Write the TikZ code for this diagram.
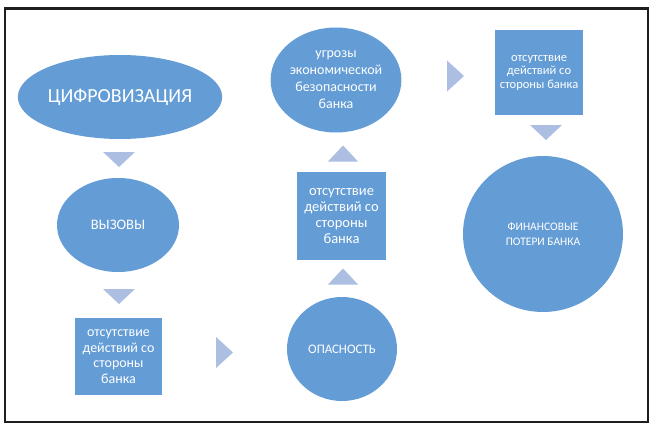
\documentclass[tikz,border=0pt]{standalone}
\usepackage{fontspec}
\setmainfont{Carlito}
\usetikzlibrary{shapes.geometric}
\definecolor{nodeblue}{RGB}{100,157,214}
\definecolor{triblue}{RGB}{172,191,226}
\definecolor{frame}{RGB}{30,30,30}
\tikzset{
  every node/.style={inner sep=0pt, outer sep=0pt},
  blob/.style={ellipse, fill=nodeblue, text=white, align=center},
  sqbox/.style={rectangle, fill=nodeblue, text=white, align=center},
  tri/.style={fill=triblue},
  pics/tdown/.style={code={\fill[tri] (-16,-7.5) -- (16,-7.5) -- (0,7.5) -- cycle;}},
  pics/tup/.style={code={\fill[tri] (-15,8) -- (15,8) -- (0,-8) -- cycle;}},
  pics/tright/.style={code={\fill[tri] (-8.5,-15.5) -- (-8.5,15.5) -- (8.5,0) -- cycle;}},
}
\begin{document}
\begin{tikzpicture}[x=1pt,y=-1pt]
\useasboundingbox (0,0) rectangle (656,428);
\fill[white] (0,0) rectangle (656,428);
\draw[frame, line width=2.6pt] (5,8.5) rectangle (648,422);

% nodes
\node[blob, minimum width=204pt, minimum height=84pt, font=\fontsize{20}{22}\selectfont] (dig) at (120,97) {ЦИФРОВИЗАЦИЯ};
\node[blob, minimum width=122pt, minimum height=94pt, font=\fontsize{14.5}{16}\selectfont] (chal) at (118,225) {ВЫЗОВЫ};
\node[sqbox, minimum width=87pt, minimum height=77pt, font=\fontsize{14}{15.5}\selectfont] (box1) at (118.5,356.5) {отсутствие\\действий со\\стороны\\банка};
\node[blob, minimum width=110pt, minimum height=104pt, font=\fontsize{13}{14}\selectfont] (danger) at (342,349) {ОПАСНОСТЬ};
\node[sqbox, minimum width=89pt, minimum height=88pt, font=\fontsize{14.5}{16}\selectfont] (box2) at (341.5,216) {отсутствие\\действий со\\стороны\\банка};
\node[blob, minimum width=130pt, minimum height=105pt, font=\fontsize{14}{17}\selectfont] (threat) at (336,80) {угрозы\\экономической\\безопасности\\банка};
\node[sqbox, minimum width=88pt, minimum height=85pt, font=\fontsize{12.5}{13.5}\selectfont] (box3) at (539,72.5) {отсутствие\\действий со\\стороны банка};
\node[blob, minimum width=160pt, minimum height=156pt, font=\fontsize{11.5}{15}\selectfont] (loss) at (543,234) {ФИНАНСОВЫЕ\\ПОТЕРИ БАНКА};

% arrow triangles
\pic (t1) at (119,159.5) {tdown};
\pic (t2) at (119,296.5) {tdown};
\pic (t3) at (224.5,352.5) {tright};
\pic (t4) at (343,276.5) {tup};
\pic (t5) at (343,153.5) {tup};
\pic (t6) at (455.5,76) {tright};
\pic (t7) at (546,132.5) {tdown};
\end{tikzpicture}
\end{document}
